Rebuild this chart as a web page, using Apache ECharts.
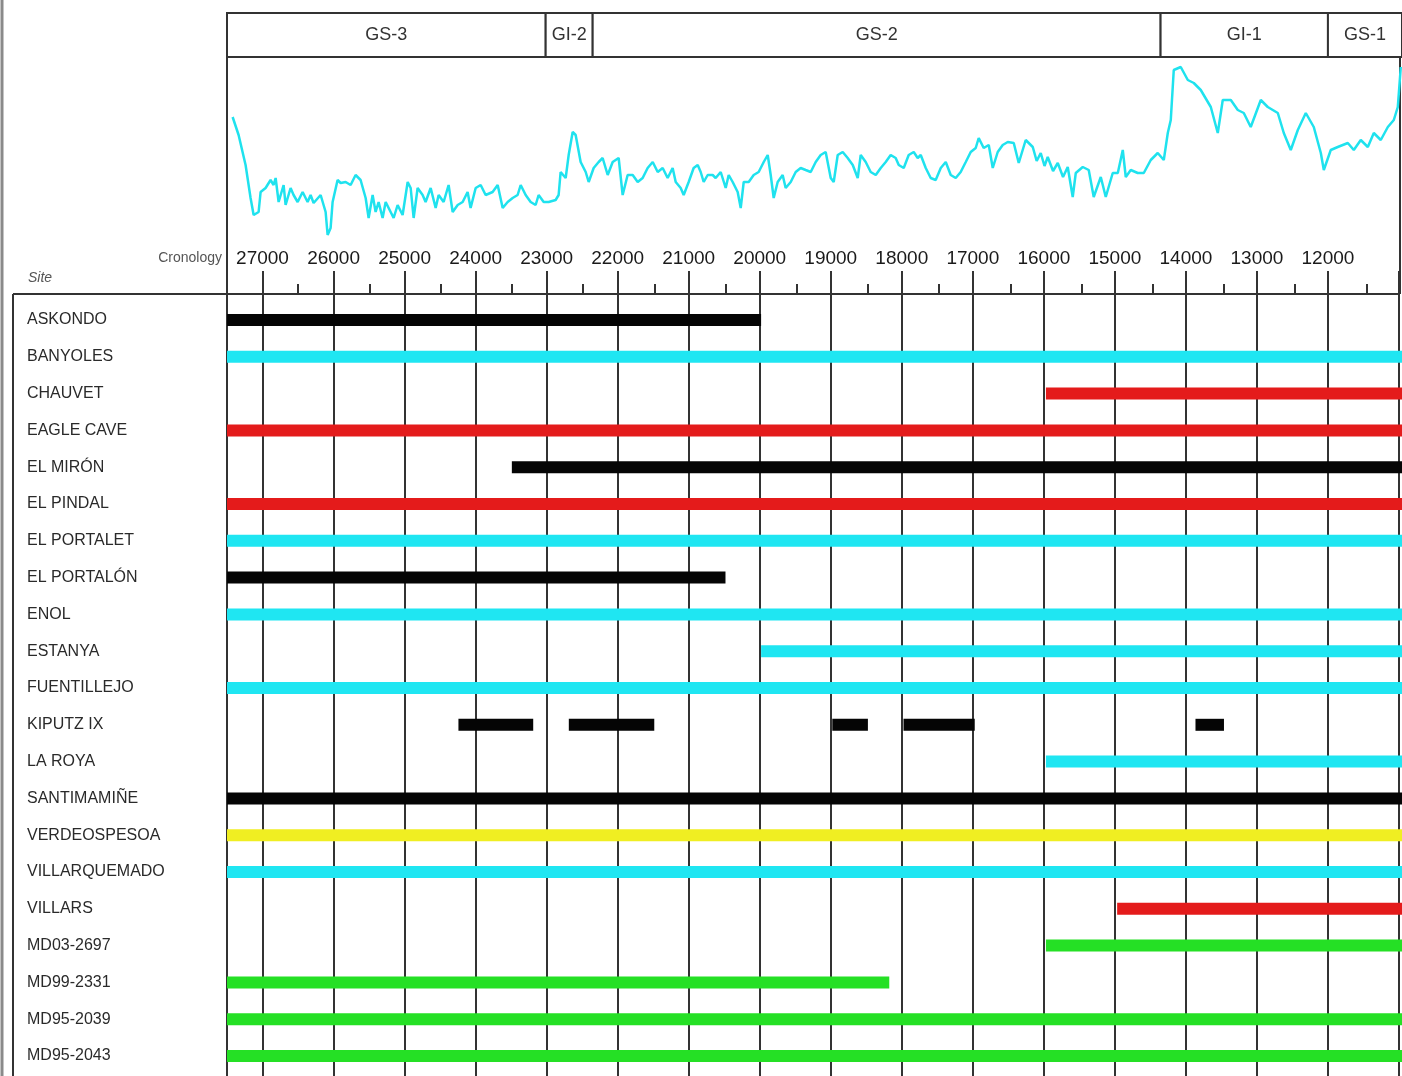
<!DOCTYPE html>
<html>
<head>
<meta charset="utf-8">
<script src="https://cdn.jsdelivr.net/npm/echarts@6/dist/echarts.min.js"></script>
<style>
  html, body { margin: 0; padding: 0; background: #fff; }
  #chart { width: 1402px; height: 1076px; }
</style>
</head>
<body>
<div id="chart"></div>
<script>
// ---- Sites and the time spans covered by each record (cal BP) ----
const sites = ['ASKONDO', 'BANYOLES', 'CHAUVET', 'EAGLE CAVE', 'EL MIRÓN', 'EL PINDAL',
  'EL PORTALET', 'EL PORTALÓN', 'ENOL', 'ESTANYA', 'FUENTILLEJO', 'KIPUTZ IX', 'LA ROYA',
  'SANTIMAMIÑE', 'VERDEOSPESOA', 'VILLARQUEMADO', 'VILLARS', 'MD03-2697', 'MD99-2331',
  'MD95-2039', 'MD95-2043'];

const siteRecord = ['archaeological', 'lacustrine', 'speleothem', 'speleothem', 'archaeological',
  'speleothem', 'lacustrine', 'archaeological', 'lacustrine', 'lacustrine', 'lacustrine',
  'archaeological', 'lacustrine', 'archaeological', 'peat', 'lacustrine', 'speleothem',
  'marine', 'marine', 'marine', 'marine'];

const siteIntervals = [
  [[27500, 20000]],
  [[27500, 11000]],
  [[16000, 11000]],
  [[27500, 11000]],
  [[23500, 11000]],
  [[27500, 11000]],
  [[27500, 11000]],
  [[27500, 20500]],
  [[27500, 11000]],
  [[20000, 11000]],
  [[27500, 11000]],
  [[24250, 23200], [22700, 21500], [19000, 18500], [18000, 17000], [13900, 13500]],
  [[16000, 11000]],
  [[27500, 11000]],
  [[27500, 11000]],
  [[27500, 11000]],
  [[15000, 11000]],
  [[16000, 11000]],
  [[27500, 18200]],
  [[27500, 11000]],
  [[27500, 11000]]
];

const recordColors = {
  archaeological: '#050505',
  lacustrine: '#1fe6f2',
  speleothem: '#e41b1b',
  peat: '#f0ee22',
  marine: '#25e025'
};

// ---- Greenland stratigraphy (event boundaries, b2k) ----
const stageNames = ['GS-3', 'GI-2', 'GS-2', 'GI-1', 'GS-1'];
const stageBounds = [27500, 23025, 22365, 14390, 12040, 11000];

// ---- Time axis ----
const ageMin = 11000;
const ageMax = 27500;
const halfTickMin = 11500;   // first half-millennium tick
const tickYears = [27000, 26000, 25000, 24000, 23000, 22000, 21000, 20000, 19000, 18000,
  17000, 16000, 15000, 14000, 13000, 12000];

// ---- NGRIP d18O record ----
const isoAge = [27421, 27337, 27239, 27169, 27126, 27056, 27028, 26958, 26888, 26846, 26817,
  26775, 26705, 26677, 26607, 26565, 26508, 26438, 26368, 26326, 26284, 26185, 26115, 26087,
  26045, 26017, 25947, 25904, 25834, 25764, 25694, 25624, 25553, 25511, 25455, 25413, 25371,
  25315, 25272, 25202, 25160, 25104, 25034, 24963, 24921, 24879, 24823, 24753, 24711, 24640,
  24570, 24528, 24458, 24388, 24331, 24261, 24191, 24121, 24079, 24008, 23938, 23868, 23770,
  23699, 23629, 23559, 23489, 23419, 23376, 23306, 23236, 23166, 23124, 23053, 22983, 22885,
  22843, 22815, 22744, 22702, 22646, 22604, 22534, 22463, 22421, 22351, 22281, 22225, 22154,
  22084, 22000, 21944, 21874, 21803, 21733, 21663, 21593, 21522, 21452, 21382, 21312, 21242,
  21199, 21129, 21087, 21017, 20947, 20890, 20848, 20806, 20750, 20680, 20638, 20567, 20497,
  20455, 20399, 20329, 20286, 20244, 20174, 20104, 20034, 19963, 19907, 19865, 19823, 19767,
  19697, 19655, 19584, 19514, 19444, 19374, 19303, 19233, 19163, 19093, 19022, 18980, 18924,
  18854, 18784, 18713, 18643, 18601, 18531, 18461, 18390, 18320, 18250, 18180, 18110, 18067,
  17997, 17927, 17857, 17801, 17758, 17688, 17618, 17548, 17477, 17407, 17337, 17267, 17197,
  17126, 17056, 16986, 16944, 16874, 16803, 16747, 16677, 16607, 16536, 16452, 16382, 16284,
  16185, 16130, 16073, 16020, 15975, 15900, 15834, 15760, 15694, 15624, 15581, 15483, 15399,
  15329, 15230, 15160, 15062,
  14991, 14921, 14879, 14809, 14711, 14626, 14528, 14430, 14345, 14289, 14247, 14205, 14107,
  14008, 13924, 13826, 13685, 13587, 13517, 13404, 13306, 13222, 13124, 12983, 12885, 12744,
  12660, 12562, 12463, 12351, 12239, 12140, 12098, 12000, 11902, 11761, 11677, 11579, 11480,
  11396, 11298, 11199, 11115, 11059, 11017];

const isoD18O = [-39.00, -39.90, -41.40, -43.05, -43.90, -43.75, -42.75, -42.55, -42.15, -42.40,
  -42.05, -43.25, -42.40, -43.40, -42.55, -42.90, -43.25, -42.75, -43.25, -42.90, -43.30,
  -42.90, -43.75, -44.90, -44.55, -43.25, -42.15, -42.30, -42.25, -42.40, -41.90, -42.15,
  -43.05, -44.05, -42.90, -43.75, -43.25, -44.05, -43.25, -43.75, -44.05, -43.40, -43.90,
  -42.25, -42.55, -44.05, -42.55, -42.90, -43.25, -42.55, -43.55, -42.90, -43.25, -42.40,
  -43.75, -43.40, -43.25, -42.75, -43.55, -42.55, -42.40, -42.90, -42.75, -42.40, -43.55,
  -43.25, -43.05, -42.90, -42.40, -42.90, -43.25, -43.40, -42.90, -43.25, -43.25, -43.15,
  -42.90, -41.75, -42.05, -40.90, -39.75, -39.90, -41.25, -41.75, -42.25, -41.55, -41.25,
  -41.05, -41.90, -41.25, -41.05, -42.90, -41.90, -41.90, -42.25, -42.05, -41.55, -41.25,
  -41.75, -41.55, -42.05, -41.55, -42.25, -42.55, -42.90, -42.25, -41.55, -41.40, -41.75,
  -42.25, -41.90, -41.90, -42.05, -41.75, -42.55, -41.90, -42.25, -42.75, -43.55, -42.25,
  -42.25, -41.90, -41.75, -41.25, -40.90, -41.90, -43.05, -42.25, -41.90, -42.55, -42.25,
  -41.75, -41.55, -41.65, -41.75, -41.25, -40.90, -40.75, -42.05, -42.25, -40.90, -40.75,
  -41.05, -41.40, -42.05, -40.90, -41.25, -41.75, -41.90, -41.55, -41.25, -40.90, -41.05,
  -41.40, -41.55, -40.90, -40.75, -41.05, -40.90, -41.55, -42.05, -42.15, -41.55, -41.25,
  -41.90, -42.05, -41.75, -41.25, -40.75, -40.55, -40.05, -40.55, -40.40, -41.55, -40.75,
  -40.40, -40.25, -40.30, -41.30, -40.15,
  -40.50, -41.20, -40.80, -41.45, -41.00, -41.70, -41.30, -42.00, -41.50, -43.00, -41.80,
  -41.50, -41.65,
  -43.00, -42.00, -43.00, -41.80, -41.80, -40.65, -42.00, -41.65,
  -41.80, -41.80, -41.15, -40.80, -41.15, -39.80, -39.15, -36.65, -36.50, -37.15, -37.30,
  -37.65, -38.50, -39.80, -38.15, -38.15, -38.65, -38.80, -39.50, -38.15, -38.50, -38.80,
  -39.80, -40.65, -39.65, -38.80, -39.50, -40.80, -41.65, -40.65, -40.50, -40.30, -40.65,
  -40.15, -40.50, -39.80, -40.15, -39.50, -39.15, -38.50, -36.50];

// ---- Build series data from the arrays above ----
const isoData = isoAge.map((a, i) => [a, isoD18O[i]]);
const stageData = stageNames.map((n, i) => [stageBounds[i], stageBounds[i + 1], i]);
const barData = [];
siteIntervals.forEach((spans, i) => {
  spans.forEach(s => barData.push([i, s[0], s[1], siteRecord[i]]));
});

const FONT = '"Liberation Sans", Arial, Helvetica, sans-serif';
const LINE = '#333333';
const PLOT_LEFT = 227;
const PLOT_WIDTH = 1402 - PLOT_LEFT;
// the half-millennium tick axis stops at halfTickMin, so its grid is narrower on the right
const halfTickRight = PLOT_WIDTH * (halfTickMin - ageMin) / (ageMax - ageMin);

const hiddenTimeAxis = (gridIndex) => ({
  type: 'value', gridIndex, min: ageMin, max: ageMax, inverse: true, show: false
});

const chart = echarts.init(document.getElementById('chart'), null, { renderer: 'canvas' });

chart.setOption({
  animation: false,
  backgroundColor: '#ffffff',
  grid: [
    { left: PLOT_LEFT, right: 0, top: 57, height: 193 },        // isotope curve
    { left: PLOT_LEFT, right: 0, top: 13, height: 44 },         // stratigraphic events
    { left: PLOT_LEFT, right: 0, top: 294, bottom: 0 },         // time axis and grid lines
    { left: PLOT_LEFT, right: 0, top: 301.6, height: 772.8 },   // site records
    { left: PLOT_LEFT, right: halfTickRight, top: 294, height: 10 } // half-millennium ticks
  ],
  xAxis: [
    hiddenTimeAxis(0),
    hiddenTimeAxis(1),
    {
      type: 'value', gridIndex: 2, position: 'top',
      min: ageMin, max: ageMax, inverse: true, interval: 1000,
      axisLine: { show: true, onZero: false, lineStyle: { color: LINE, width: 2 } },
      axisTick: { show: true, inside: false, length: 23, lineStyle: { color: LINE, width: 2 } },
      axisLabel: {
        show: true, margin: 26, color: '#1a1a1a', fontSize: 19, fontFamily: FONT,
        formatter: v => (tickYears.indexOf(v) >= 0 ? String(v) : '')
      },
      splitLine: { show: true, lineStyle: { color: LINE, width: 2 } }
    },
    hiddenTimeAxis(3),
    {
      type: 'value', gridIndex: 4, position: 'top',
      min: halfTickMin, max: ageMax, inverse: true, interval: 1000,
      axisLine: { show: false, onZero: false },
      axisTick: { show: true, inside: false, length: 10, lineStyle: { color: LINE, width: 2 } },
      axisLabel: { show: false },
      splitLine: { show: false }
    }
  ],
  yAxis: [
    { type: 'value', gridIndex: 0, min: -45.65, max: -36.0, show: false },
    { type: 'value', gridIndex: 1, min: 0, max: 1, show: false },
    { type: 'category', gridIndex: 2, data: ['a'], show: false },
    {
      type: 'category', gridIndex: 3, data: sites, inverse: true,
      axisLine: { show: false }, axisTick: { show: false }, splitLine: { show: false },
      axisLabel: {
        show: true, align: 'left', margin: 200, color: '#2a2a2a',
        fontSize: 16, fontFamily: FONT
      }
    },
    { type: 'category', gridIndex: 4, data: ['a'], show: false }
  ],
  graphic: [
    // page edge
    { type: 'line', shape: { x1: 2, y1: 0, x2: 2, y2: 1076 }, style: { stroke: '#8a8a8a', lineWidth: 3 }, silent: true },
    // site table frame
    { type: 'line', shape: { x1: 13, y1: 294, x2: 227, y2: 294 }, style: { stroke: LINE, lineWidth: 2 }, silent: true },
    { type: 'line', shape: { x1: 13, y1: 294, x2: 13, y2: 1076 }, style: { stroke: LINE, lineWidth: 2 }, silent: true },
    // panel frame
    { type: 'line', shape: { x1: 227, y1: 13, x2: 227, y2: 294 }, style: { stroke: LINE, lineWidth: 2 }, silent: true },
    { type: 'line', shape: { x1: 1400, y1: 13, x2: 1400, y2: 294 }, style: { stroke: LINE, lineWidth: 2 }, silent: true },
    {
      type: 'text', x: 222, y: 258, silent: true,
      style: { text: 'Cronology', font: '14px ' + FONT, fill: '#555', align: 'right', verticalAlign: 'middle' }
    },
    {
      type: 'text', x: 28, y: 278, silent: true,
      style: { text: 'Site', font: 'italic 14px ' + FONT, fill: '#555', align: 'left', verticalAlign: 'middle' }
    }
  ],
  series: [
    {
      type: 'line', name: 'NGRIP d18O', xAxisIndex: 0, yAxisIndex: 0,
      data: isoData, showSymbol: false, symbol: 'none', clip: true,
      lineStyle: { color: '#1fe2ee', width: 2.5 }
    },
    {
      type: 'custom', name: 'events', xAxisIndex: 1, yAxisIndex: 1,
      data: stageData,
      encode: { x: [0, 1] },
      renderItem: function (params, api) {
        const a = api.coord([api.value(0), 1]);
        const b = api.coord([api.value(1), 0]);
        const x0 = Math.min(a[0], b[0]);
        const w = Math.abs(b[0] - a[0]);
        return {
          type: 'group',
          children: [
            {
              type: 'rect',
              shape: { x: x0, y: a[1], width: w, height: b[1] - a[1] },
              style: { fill: '#fff', stroke: LINE, lineWidth: 2 }
            },
            {
              type: 'text',
              style: {
                text: stageNames[api.value(2)],
                x: x0 + w / 2, y: (a[1] + b[1]) / 2,
                align: 'center', verticalAlign: 'middle',
                font: '18px ' + FONT, fill: '#333'
              }
            }
          ]
        };
      }
    },
    {
      type: 'custom', name: 'records', xAxisIndex: 3, yAxisIndex: 3,
      data: barData,
      encode: { x: [1, 2], y: 0 },
      renderItem: function (params, api) {
        const row = api.value(0);
        const p1 = api.coord([api.value(1), row]);
        const p2 = api.coord([api.value(2), row]);
        const rec = barData[params.dataIndex][3];
        return {
          type: 'rect',
          shape: { x: Math.min(p1[0], p2[0]), y: p1[1] - 6, width: Math.abs(p2[0] - p1[0]), height: 12 },
          style: { fill: recordColors[rec] }
        };
      }
    }
  ]
});
</script>
</body>
</html>
